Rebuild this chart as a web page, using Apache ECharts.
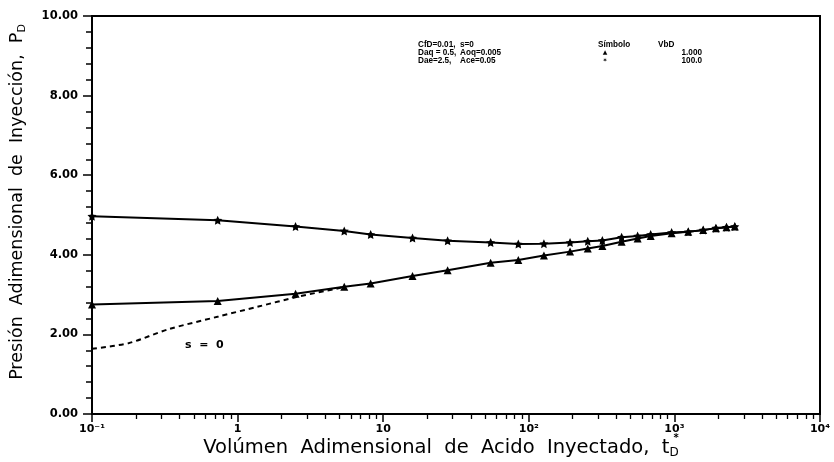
<!DOCTYPE html>
<html>
<head>
<meta charset="utf-8">
<script src="https://cdn.jsdelivr.net/npm/echarts@6/dist/echarts.min.js"></script>
<style>
html,body{margin:0;padding:0;background:#fff;}
#chart{width:834px;height:462px;}
</style>
</head>
<body>
<div id="chart"></div>
<script>
// ---- data ----
var tD = [0.1, 0.73, 2.5, 5.4, 8.2, 15.9, 27.7, 54.7, 84.7, 127, 192, 254, 320, 434, 559, 687, 957, 1245, 1577, 1928, 2280, 2600];
var pD_VbD100 = [4.97, 4.87, 4.71, 4.60, 4.51, 4.42, 4.35, 4.31, 4.27, 4.28, 4.31, 4.34, 4.36, 4.44, 4.47, 4.51, 4.56, 4.58, 4.62, 4.67, 4.69, 4.71];
var pD_VbD1 = [2.75, 2.84, 3.02, 3.20, 3.28, 3.47, 3.61, 3.80, 3.87, 3.98, 4.08, 4.16, 4.22, 4.33, 4.41, 4.47, 4.54, 4.58, 4.62, 4.67, 4.69, 4.71];
var tD_s0 = [0.1, 0.178, 0.336, 0.74, 1.39, 2.62, 4.93, 5.4];
var pD_s0 = [1.64, 1.78, 2.13, 2.45, 2.70, 2.95, 3.16, 3.20];
var xMajorTicks = [0.1, 1, 10, 100, 1000, 10000];
var xTickLabels = ['10\u207B\u00B9', '1', '10', '10\u00B2', '10\u00B3', '10\u2074'];
var xMinorMultipliers = [2, 3, 4, 5, 6, 7, 8, 9];
var yTickLabels = ['0.00', '2.00', '4.00', '6.00', '8.00', '10.00'];

function zip(xs, ys) { return xs.map(function (x, i) { return [x, ys[i]]; }); }
var xMinorTicks = [];
xMajorTicks.slice(0, -1).forEach(function (d) {
  xMinorMultipliers.forEach(function (m) { xMinorTicks.push(+(d * m).toPrecision(6)); });
});

var chart = echarts.init(document.getElementById('chart'), null, {renderer: 'canvas'});
var starPath = 'path://M0,-10 L2.9,-4 L9.5,-3.1 L4.7,1.5 L5.9,8.1 L0,5 L-5.9,8.1 L-4.7,1.5 L-9.5,-3.1 L-2.9,-4 Z';
var annFont = 'bold 9.5px "Liberation Sans"';
function ann(x, y, text, align) {
  return {type: 'text', x: x, y: y, scaleX: 0.86, style: {text: text, font: annFont, lineHeight: 7.6, fill: '#000', align: align || 'left'}};
}

chart.setOption({
  animation: false,
  backgroundColor: '#fff',
  grid: {left: 92, right: 14, top: 16, bottom: 48, show: true, borderColor: '#000', borderWidth: 2, backgroundColor: 'transparent'},
  xAxis: [{
    type: 'log', logBase: 10, min: 0.1, max: 10000,
    axisLine: {show: true, onZero: false, lineStyle: {color: '#000', width: 2}},
    axisTick: {show: true, length: 8, lineStyle: {color: '#000', width: 1.5}, customValues: xMajorTicks},
    axisLabel: {show: true, margin: 10, customValues: xMajorTicks,
      formatter: function (v) { var i = xMajorTicks.findIndex(function (t) { return Math.abs(Math.log10(t) - Math.log10(v)) < 1e-6; }); return i >= 0 ? xTickLabels[i] : ''; },
      color: '#000', fontFamily: 'DejaVu Sans', fontWeight: 'bold', fontSize: 11},
    splitLine: {show: false}, minorTick: {show: false}
  }, {
    type: 'log', logBase: 10, min: 0.1, max: 10000, position: 'bottom',
    axisLine: {show: false, onZero: false},
    axisTick: {show: true, length: 5, lineStyle: {color: '#000', width: 1.3}, customValues: xMinorTicks},
    axisLabel: {show: false},
    splitLine: {show: false}
  }],
  yAxis: {
    type: 'value', min: 0, max: 10, interval: 2,
    axisLine: {show: true, lineStyle: {color: '#000', width: 2}},
    axisTick: {show: true, length: 9, lineStyle: {color: '#000', width: 1.5}},
    minorTick: {show: true, splitNumber: 5, length: 6, lineStyle: {color: '#000', width: 1.5}},
    axisLabel: {margin: 14, formatter: function (v) { return yTickLabels[Math.round(v / 2)]; },
      color: '#000', fontFamily: 'DejaVu Sans', fontWeight: 'bold', fontSize: 11.5},
    splitLine: {show: false}
  },
  series: [{
    name: 'VbD 100.0', type: 'line', xAxisIndex: 0, data: zip(tD, pD_VbD100),
    symbol: starPath, symbolSize: 9, itemStyle: {color: '#000'},
    lineStyle: {color: '#000', width: 2}, z: 3
  }, {
    name: 'VbD 1.000', type: 'line', xAxisIndex: 0, data: zip(tD, pD_VbD1),
    symbol: 'triangle', symbolSize: 8, itemStyle: {color: '#000'},
    lineStyle: {color: '#000', width: 2}, z: 3
  }, {
    name: 's = 0', type: 'line', xAxisIndex: 0, data: zip(tD_s0, pD_s0),
    symbol: 'none', smooth: 0.3,
    lineStyle: {color: '#000', width: 2, type: [5, 4]}, z: 2
  }],
  graphic: [
    {type: 'text', x: 441, y: 448, style: {
      text: 'Vol\u00FAmen  Adimensional  de  Acido  Inyectado,  t{sd|D}',
      align: 'center', verticalAlign: 'middle', fill: '#000',
      font: '19.5px "DejaVu Sans"',
      rich: {sd: {fontSize: 12, fontFamily: 'DejaVu Sans', padding: [10, 0, 0, 0], fill: '#000'}}
    }},
    {type: 'text', x: 676, y: 438, style: {text: '*', font: 'bold 10px "DejaVu Sans"', fill: '#000', align: 'center', verticalAlign: 'middle'}},
    {type: 'text', x: 17, y: 202, rotation: Math.PI / 2, style: {
      text: 'Presi\u00F3n  Adimensional  de  Inyecci\u00F3n,  P{sd|D}',
      align: 'center', verticalAlign: 'middle', fill: '#000',
      font: '17.5px "DejaVu Sans"',
      rich: {sd: {fontSize: 11, fontFamily: 'DejaVu Sans', padding: [10, 0, 0, 0], fill: '#000'}}
    }},
    ann(418, 41, 'CfD=0.01,\nDaq = 0.5,\nDae=2.5,'),
    ann(460, 41, 's=0\nAoq=0.005\nAce=0.05'),
    ann(598, 41, 'S\u00EDmbolo'),
    ann(658, 41, 'VbD'),
    {type: 'text', x: 605, y: 48.6, style: {text: '\u25B2\n\u2736', font: 'bold 6px "DejaVu Sans"', lineHeight: 7.6, fill: '#000', align: 'center'}},
    ann(702, 48.6, '1.000\n100.0', 'right'),
    {type: 'text', x: 185, y: 345, style: {text: 's  =  0', font: 'bold 11px "DejaVu Sans"', fill: '#000', verticalAlign: 'middle'}}
  ]
});
</script>
</body>
</html>
